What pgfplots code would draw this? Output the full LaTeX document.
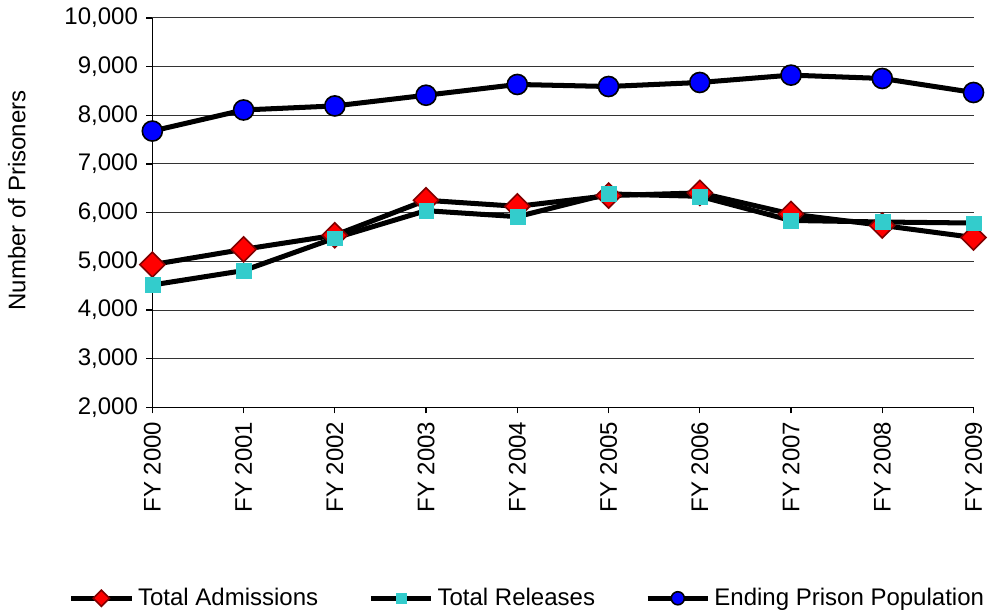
\documentclass[border=0pt]{standalone}
\usepackage{pgfplots}
\pgfplotsset{compat=1.18}
\usepackage{fontspec}
\setmainfont{Liberation Sans}
\definecolor{admred}{RGB}{255,0,0}
\definecolor{admedge}{RGB}{128,0,0}
\definecolor{relcyan}{RGB}{51,204,204}
\definecolor{popblue}{RGB}{0,0,255}
\begin{document}
\fontsize{12}{14}\selectfont
\begin{tikzpicture}
\begin{axis}[
    scale only axis,
    width=409bp, height=194bp,
    xmin=0, xmax=9,
    ymin=2000, ymax=10000,
    ytick={2000,3000,...,10000},
    xtick={0,...,9},
    xticklabels={FY 2000,FY 2001,FY 2002,FY 2003,FY 2004,FY 2005,FY 2006,FY 2007,FY 2008,FY 2009},
    x tick label style={rotate=90, anchor=east, font=\fontsize{12}{14}\selectfont},
    y tick label style={font=\fontsize{12}{14}\selectfont},
    /pgf/number format/assume math mode=true,
    /pgf/number format/1000 sep={,},
    scaled y ticks=false,
    axis x line*=bottom,
    axis y line*=left,
    axis line style={black, line width=0.6bp},
    ymajorgrids,
    major grid style={black!80, line width=0.5bp},
    tick align=outside,
    major tick length=3bp,
    tick style={black, line width=0.6bp},
    ylabel={Number of Prisoners},
    ylabel style={font=\fontsize{12}{14}\selectfont},
    every axis y label/.style={at={(axis description cs:0,0.5)}, rotate=90, anchor=center, yshift=67.5bp, xshift=6bp},
    clip=false,
    legend style={at={(0.458,-0.49)}, anchor=center, draw=none, fill=none,
        legend columns=3, font=\fontsize{12}{14}\selectfont,
        /tikz/every even column/.append style={column sep=23bp},
        inner sep=0pt},
    legend cell align=left,
    legend image code/.code={
        \draw[mark repeat=2,mark phase=2,#1,/tikz/every mark/.append style={scale=0.65}]
            plot coordinates {(0bp,0bp) (15bp,0bp) (30bp,0bp)};
    },
]
\addplot[black, line width=2.5bp, mark=square*, mark size=4.4bp,
    mark options={rotate=45, fill=admred, draw=admedge, line width=0.8bp}]
coordinates {(0,4932) (1,5247) (2,5536) (3,6254) (4,6130) (5,6350) (6,6406) (7,5973) (8,5738) (9,5490)};
\addlegendentry{Total Admissions}
\addplot[black, line width=2.5bp, mark=square*, mark size=3.7bp,
    mark options={fill=relcyan, draw=relcyan, line width=0.1bp}]
coordinates {(0,4515) (1,4810) (2,5478) (3,6041) (4,5918) (5,6385) (6,6336) (7,5840) (8,5808) (9,5787)};
\addlegendentry{Total Releases}
\addplot[black, line width=2.5bp, mark=*, mark size=5bp,
    mark options={fill=popblue, draw=black, line width=0.8bp}]
coordinates {(0,7676) (1,8109) (2,8192) (3,8412) (4,8633) (5,8591) (6,8674) (7,8825) (8,8756) (9,8468)};
\addlegendentry{Ending Prison Population}
\end{axis}
\end{tikzpicture}
\end{document}
